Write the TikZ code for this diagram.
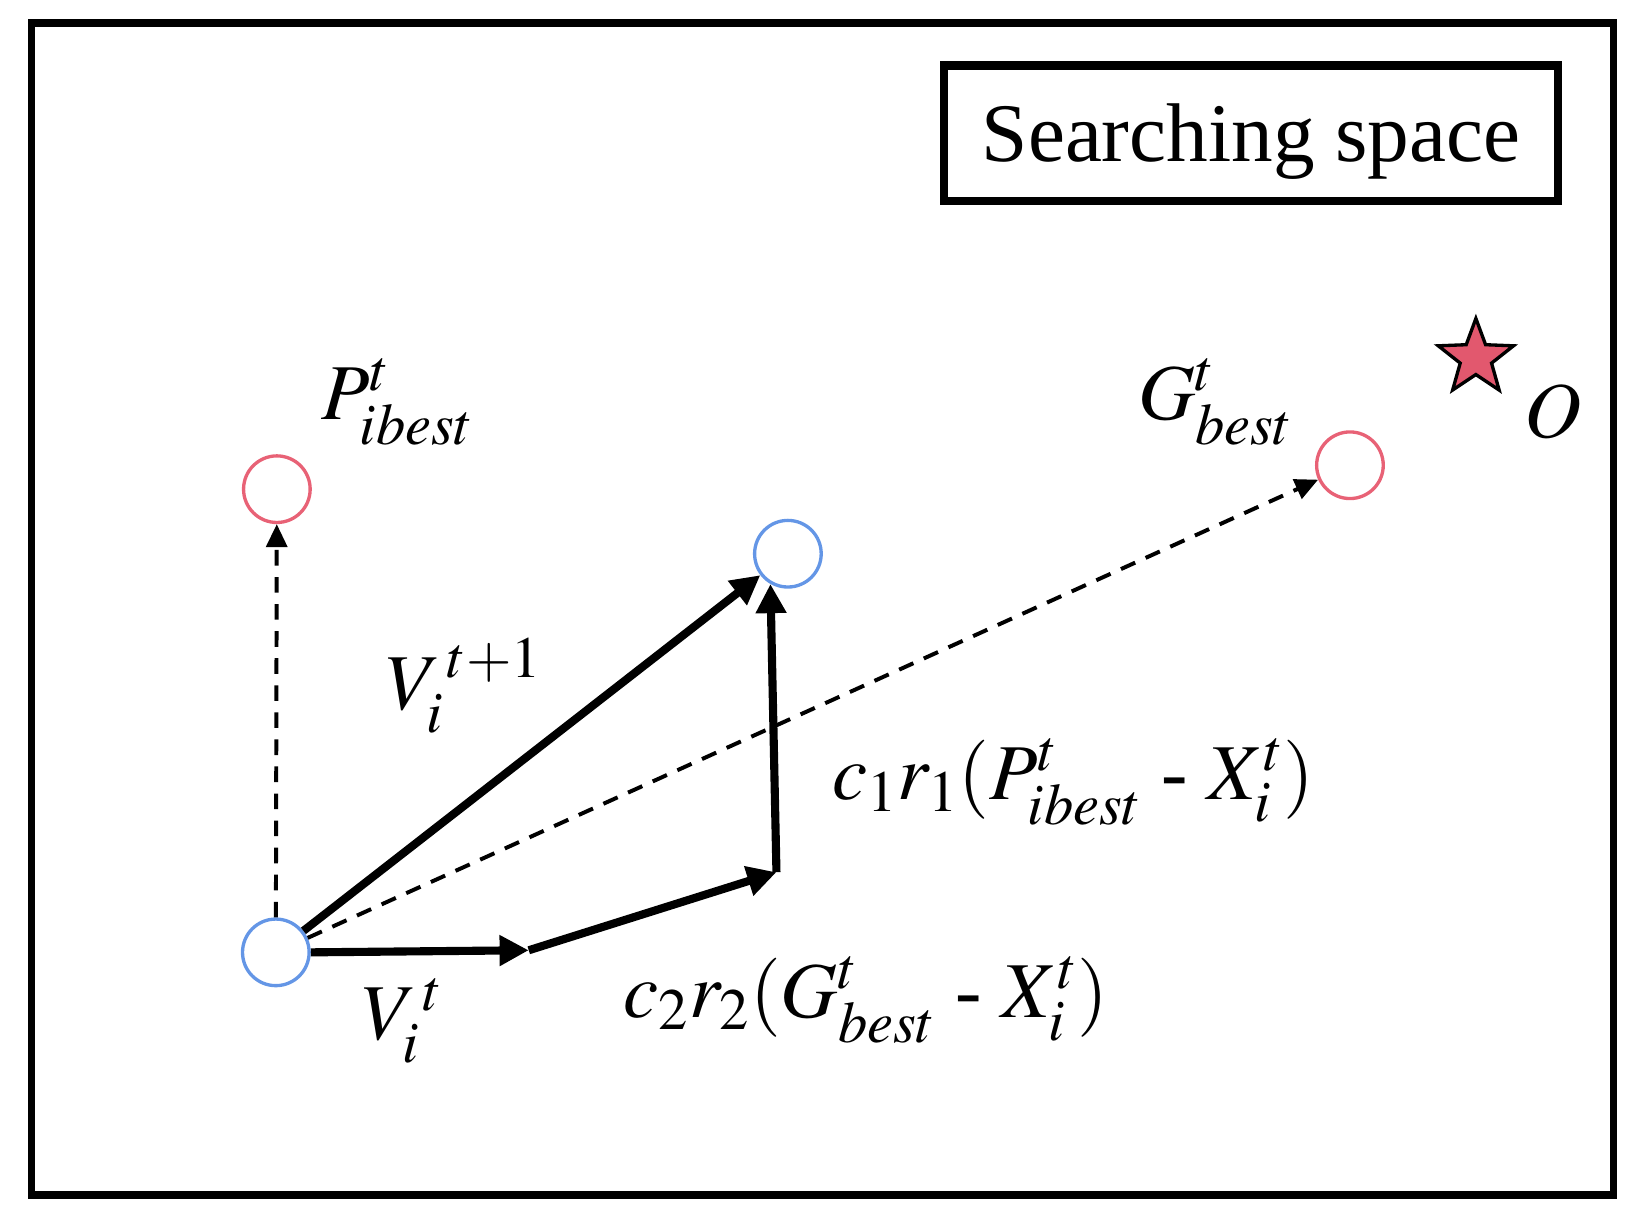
\documentclass[tikz,border=0pt]{standalone}
\usepackage{mathptmx}
\usepackage{fontspec}
\setmainfont{Liberation Serif}
\usetikzlibrary{arrows.meta,shapes.geometric}
\definecolor{ptred}{RGB}{232,98,118}
\definecolor{ptblue}{RGB}{100,150,230}
\definecolor{starred}{RGB}{226,88,110}
\begin{document}
\begin{tikzpicture}[x=0.5pt,y=-0.5pt,
  frame/.style={draw=black, line width=3.5pt},
  pt/.style={circle, line width=1.6pt, minimum size=32pt, inner sep=0pt},
  redpt/.style={pt, draw=ptred},
  bluept/.style={pt, draw=ptblue},
  vec/.style={line width=3.9pt, -{Triangle[length=14pt,width=14pt]}},
  guide/.style={line width=1.9pt, dash pattern=on 7.5pt off 5.5pt, -{Triangle[length=11pt,width=10pt]}},
  lab/.style={font=\fontsize{38}{40}\selectfont, inner sep=0pt}]
\useasboundingbox (0,0) rectangle (1568,1171);
\draw[frame] (30,22) rectangle (1550,1148);
\node[draw, line width=4pt, minimum width=295pt, minimum height=65pt, inner sep=0pt,
      text height=36pt, text depth=9pt,
      font=\fontsize{40}{42}\selectfont] (title) at (1202,128) {Searching space};

\node[redpt] (P) at (266,470) {};
\node[bluept] (N) at (757,532) {};
\node[redpt] (G) at (1297,447) {};
\node[bluept] (X) at (265,915) {};
\node[star, star points=5, star point ratio=2.4, draw=black, fill=starred, line width=1.6pt,
      minimum size=38pt, inner sep=0pt] (O) at (1418,344) {};
\coordinate (A) at (508,913);
\coordinate (B) at (746,838);

\draw[guide] (X) -- (P);
\draw[guide] (X) -- (G);
\draw[vec] (X) -- (N);
\draw[vec] (X.east) -- (A);
\draw[vec] (A) -- (B);
\draw[vec] (B) -- (N.240);

\node[lab] (lp) at (382,386) {$P^{t}_{ibest}$};
\node[lab] (lg) at (1168,386) {$G^{t}_{best}$};
\node[lab] (lo) at (1492,395) {$O$};
\node[lab] (lv1) at (446,659) {$V_i^{\,t+1}$};
\node[lab] (lc1) at (1031,751) {$c_1r_1(P^{t}_{ibest}\mbox{ - }X^{t}_{i})$};
\node[lab] (lv) at (387,981) {$V_i^{\,t}$};
\node[lab] (lc2) at (832,961) {$c_2r_2(G^{t}_{best}\mbox{ - }X^{t}_{i})$};
\end{tikzpicture}
\end{document}
